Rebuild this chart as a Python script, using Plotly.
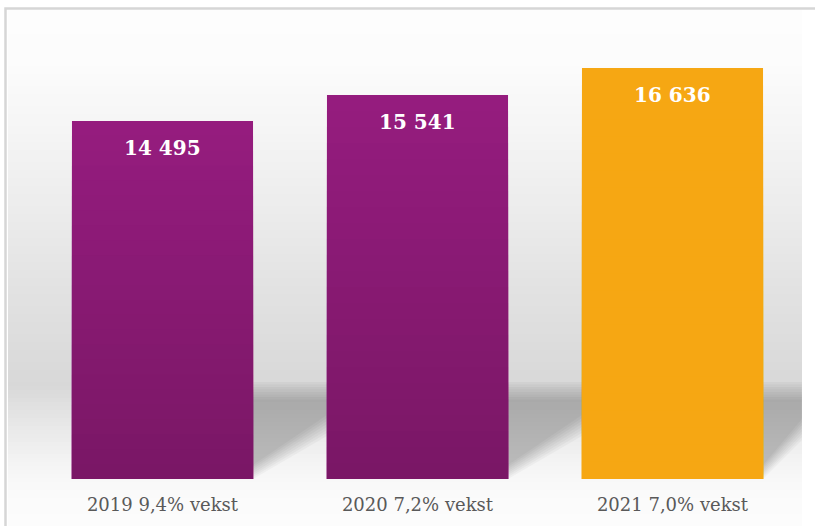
import plotly.graph_objects as go

# ---- data ----
categories = ["2019 9,4% vekst", "2020 7,2% vekst", "2021 7,0% vekst"]
values = [14495, 15541, 16636]
value_labels = ["14 495", "15 541", "16 636"]

# ---- geometry / style ----
W, H = 815, 526
L, R, T, B = 35, 15, 59, 47
YMAX = 17000
BAR_W = 0.71

PURPLE_TOP = (0x95, 0x1c, 0x7e)
PURPLE_BOT = (0x7a, 0x17, 0x66)
ORANGE = "#f6a713"


def px_x(px):
    return (px - L) / (W - L - R)


def px_y(py):
    return (H - B - py) / (H - T - B)


def mix(c1, c2, t):
    return "rgb(%d,%d,%d)" % tuple(round(a + (b - a) * t) for a, b in zip(c1, c2))


fig = go.Figure()

# bars with vertical gradient: overlay progressively shorter bars
N = 24
for k in range(N):
    frac = (N - k) / N
    col = mix(PURPLE_TOP, PURPLE_BOT, k / (N - 1))
    fig.add_trace(go.Bar(
        x=categories,
        y=[v * frac for v in values],
        width=BAR_W,
        marker=dict(color=[col, col, ORANGE], line=dict(width=0)),
        hoverinfo="skip",
        showlegend=False,
    ))

shapes = []

# background vertical gradient
stops = [(10, 253), (60, 252), (120, 246), (200, 237), (300, 225), (385, 216),
         (420, 230), (460, 243), (480, 248), (500, 251), (526, 252)]


def grey_at(py):
    for (y0, g0), (y1, g1) in zip(stops, stops[1:]):
        if y0 <= py <= y1:
            return g0 + (g1 - g0) * (py - y0) / (y1 - y0)
    return stops[-1][1]


step = 4
y = 10
while y < 526:
    g = round(grey_at(y + step / 2))
    shapes.append(dict(type="rect", xref="paper", yref="paper", layer="below",
                       x0=px_x(8), x1=px_x(802), y0=px_y(y), y1=px_y(min(y + step, 526) + 0.5),
                       fillcolor="rgb(%d,%d,%d)" % (g, g, g), line=dict(width=0)))
    y += step

# soft cast shadows to the right of each bar
bar_rights = [253, 508, 763]
shadow_ends = [(327, 436), (582, 436), (802, 440)]
for r, (xe, ye) in zip(bar_rights, shadow_ends):
    for k in range(8):
        top = 382 + 2.5 * k
        path = "M %f,%f L %f,%f L %f,%f L %f,%f Z" % (
            px_x(r), px_y(top),
            px_x(xe), px_y(top),
            px_x(xe), px_y(ye - 3 * k),
            px_x(r), px_y(479 - 2 * k),
        )
        shapes.append(dict(type="path", xref="paper", yref="paper", layer="below",
                           path=path, fillcolor="rgba(0,0,0,0.03)", line=dict(width=0)))

# outer frame
shapes.append(dict(type="rect", xref="paper", yref="paper", layer="above",
                   x0=px_x(5.5), x1=px_x(840), y0=px_y(8.5), y1=px_y(560),
                   fillcolor="rgba(0,0,0,0)", line=dict(color="#d6d6d6", width=2.5)))

annotations = []
for c, v, lab in zip(categories, values, value_labels):
    annotations.append(dict(x=c, y=v, xref="x", yref="y", text="<b>%s</b>" % lab,
                            showarrow=False, yanchor="middle", yshift=-27,
                            font=dict(family="DejaVu Serif", size=20, color="white")))

fig.update_layout(
    width=W, height=H,
    margin=dict(l=L, r=R, t=T, b=B, pad=0),
    barmode="overlay",
    bargap=1 - BAR_W,
    paper_bgcolor="white",
    plot_bgcolor="rgba(0,0,0,0)",
    shapes=shapes,
    annotations=annotations,
    xaxis=dict(showgrid=False, showline=False, zeroline=False, ticks="",
               ticklabelstandoff=13,
               tickfont=dict(family="DejaVu Serif", size=18, color="#595959")),
    yaxis=dict(visible=False, range=[0, YMAX], fixedrange=True),
    showlegend=False,
)

fig.write_html("out.html",
               config={"displayModeBar": False},
               post_script="document.body.style.margin='0';document.body.style.overflow='hidden';")
